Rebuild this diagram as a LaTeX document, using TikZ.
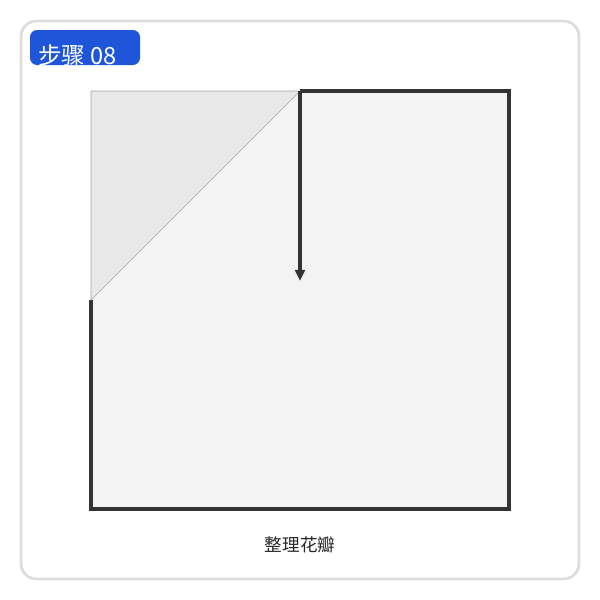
\documentclass[tikz,border=0pt]{standalone}
\usepackage{fontspec}
\usepackage{xcolor}
\usetikzlibrary{positioning,arrows.meta}
\newfontfamily\cjk{Noto Sans CJK SC}

\definecolor{framegray}{HTML}{DDDDDD}
\definecolor{stepblue}{HTML}{1F56D9}
\definecolor{paper}{HTML}{F3F3F3}
\definecolor{flap}{HTML}{E8E8E8}
\definecolor{edge}{HTML}{333333}

\begin{document}
\begin{tikzpicture}[x=0.025cm, y=-0.025cm, >={Triangle[length=8pt,width=7pt]}]
            \useasboundingbox (0,0) rectangle (600,600);

            % Define the corners
            \coordinate (TL) at (91,91);
            \coordinate (TR) at (509,91);
            \coordinate (BR) at (509,509);
            \coordinate (BL) at (91,509);
            \coordinate (FT) at (300,91);
            \coordinate (FL) at (91,300);
            \coordinate (AE) at (300,281);

            % Draw the frame
            \draw[framegray, line width=2pt, fill=white, rounded corners=11pt] (21,21) rectangle (579,579);
            \fill[stepblue, rounded corners=5pt] (30,30) rectangle (140,65);
            \node[text=white, font=\cjk\fontsize{16.8}{18}\selectfont, anchor=base west, inner sep=0pt] (step) at (38,64) {步骤 08};

            % Draw the paper
            \fill[paper] (FT) -- (TR) -- (BR) -- (BL) -- (FL) -- cycle;
            \draw[edge, line width=2.2pt, line join=miter] (FT) -- (TR) -- (BR) -- (BL) -- (FL);

            % Draw the fold
            \filldraw[fill=flap, draw=gray!70, line width=0.4pt] (TL) -- (FT) -- (FL) -- cycle;

            % Draw the arrow
            \draw[->, edge, line width=2.2pt] (FT) -- (AE);

            % Caption
            \node[font=\cjk\fontsize{12.5}{14}\selectfont, text=black!85] (caption) at (300,545) {整理花瓣};

        \end{tikzpicture}
\end{document}
